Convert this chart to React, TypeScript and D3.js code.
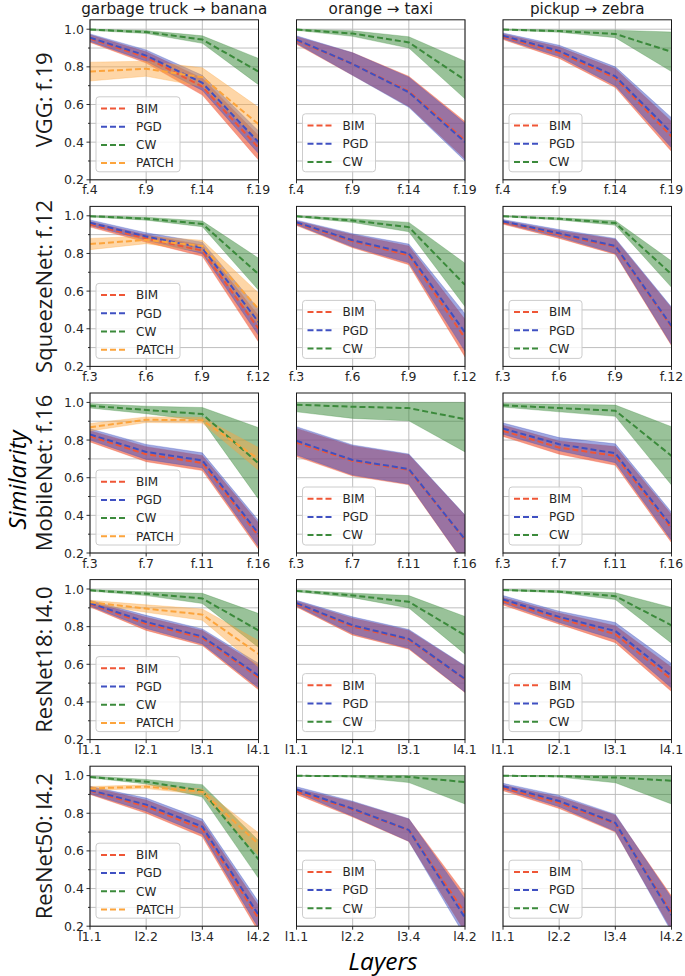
import React from "react";
import * as d3 from "d3";

// ---------- labels ----------
const rowLabels = ["VGG: f.19", "SqueezeNet: f.12", "MobileNet: f.16", "ResNet18: l4.0", "ResNet50: l4.2"];
const colTitles = ["garbage truck \u2192 banana", "orange \u2192 taxi", "pickup \u2192 zebra"];
const xTicksVGG = ["f.4", "f.9", "f.14", "f.19"];
const xTicksSqueeze = ["f.3", "f.6", "f.9", "f.12"];
const xTicksMobile = ["f.3", "f.7", "f.11", "f.16"];
const xTicksRes18 = ["l1.1", "l2.1", "l3.1", "l4.1"];
const xTicksRes50 = ["l1.1", "l2.2", "l3.4", "l4.2"];
const yTickValues = [0.2, 0.4, 0.6, 0.8, 1.0];
const yGridValues = [0.2, 0.3, 0.4, 0.5, 0.6, 0.7, 0.8, 0.9, 1.0];

// ---------- data: mean and spread per layer ----------
// VGG
const vggBananaBIM = [0.95, 0.85, 0.695, 0.37];
const vggBananaBIMsd = [0.02, 0.03, 0.045, 0.065];
const vggBananaPGD = [0.955, 0.86, 0.715, 0.4];
const vggBananaPGDsd = [0.02, 0.03, 0.04, 0.06];
const vggBananaCW = [0.998, 0.985, 0.945, 0.775];
const vggBananaCWsd = [0.004, 0.008, 0.02, 0.07];
const vggBananaPATCH = [0.775, 0.79, 0.745, 0.495];
const vggBananaPATCHsd = [0.05, 0.04, 0.05, 0.09];
const vggTaxiBIM = [0.94, 0.815, 0.67, 0.41];
const vggTaxiBIMsd = [0.02, 0.06, 0.08, 0.1];
const vggTaxiPGD = [0.945, 0.815, 0.665, 0.4];
const vggTaxiPGDsd = [0.02, 0.06, 0.08, 0.1];
const vggTaxiCW = [0.998, 0.977, 0.93, 0.73];
const vggTaxiCWsd = [0.004, 0.015, 0.03, 0.1];
const vggZebraBIM = [0.96, 0.875, 0.74, 0.43];
const vggZebraBIMsd = [0.015, 0.03, 0.05, 0.08];
const vggZebraPGD = [0.965, 0.885, 0.75, 0.45];
const vggZebraPGDsd = [0.015, 0.03, 0.05, 0.08];
const vggZebraCW = [0.998, 0.99, 0.975, 0.88];
const vggZebraCWsd = [0.003, 0.006, 0.02, 0.105];
// SqueezeNet
const sqzBananaBIM = [0.955, 0.88, 0.815, 0.4];
const sqzBananaBIMsd = [0.015, 0.02, 0.03, 0.07];
const sqzBananaPGD = [0.963, 0.89, 0.83, 0.435];
const sqzBananaPGDsd = [0.015, 0.02, 0.03, 0.07];
const sqzBananaCW = [0.998, 0.985, 0.957, 0.69];
const sqzBananaCWsd = [0.004, 0.008, 0.015, 0.085];
const sqzBananaPATCH = [0.85, 0.872, 0.84, 0.505];
const sqzBananaPATCHsd = [0.03, 0.02, 0.03, 0.085];
const sqzTaxiBIM = [0.96, 0.865, 0.79, 0.35];
const sqzTaxiBIMsd = [0.012, 0.035, 0.05, 0.1];
const sqzTaxiPGD = [0.965, 0.87, 0.8, 0.38];
const sqzTaxiPGDsd = [0.012, 0.035, 0.05, 0.1];
const sqzTaxiCW = [0.998, 0.975, 0.94, 0.633];
const sqzTaxiCWsd = [0.004, 0.01, 0.025, 0.115];
const sqzZebraBIM = [0.965, 0.9, 0.835, 0.41];
const sqzZebraBIMsd = [0.01, 0.02, 0.04, 0.1];
const sqzZebraPGD = [0.97, 0.907, 0.84, 0.415];
const sqzZebraPGDsd = [0.01, 0.02, 0.04, 0.1];
const sqzZebraCW = [0.998, 0.984, 0.962, 0.69];
const sqzZebraCWsd = [0.003, 0.006, 0.012, 0.07];
// MobileNet
const mobBananaBIM = [0.82, 0.725, 0.678, 0.29];
const mobBananaBIMsd = [0.03, 0.04, 0.04, 0.07];
const mobBananaPGD = [0.83, 0.737, 0.692, 0.303];
const mobBananaPGDsd = [0.03, 0.04, 0.04, 0.07];
const mobBananaCW = [0.982, 0.96, 0.938, 0.676];
const mobBananaCWsd = [0.012, 0.02, 0.035, 0.19];
const mobBananaPATCH = [0.868, 0.908, 0.905, 0.7];
const mobBananaPATCHsd = [0.02, 0.015, 0.015, 0.06];
const mobTaxiBIM = [0.787, 0.689, 0.642, 0.27];
const mobTaxiBIMsd = [0.075, 0.08, 0.08, 0.13];
const mobTaxiPGD = [0.796, 0.694, 0.646, 0.272];
const mobTaxiPGDsd = [0.075, 0.08, 0.08, 0.13];
const mobTaxiCW = [0.988, 0.977, 0.97, 0.911];
const mobTaxiCWsd = [0.038, 0.062, 0.068, 0.174];
const mobZebraBIM = [0.849, 0.76, 0.716, 0.33];
const mobZebraBIMsd = [0.03, 0.035, 0.05, 0.075];
const mobZebraPGD = [0.861, 0.778, 0.73, 0.342];
const mobZebraPGDsd = [0.03, 0.035, 0.05, 0.075];
const mobZebraCW = [0.985, 0.97, 0.956, 0.716];
const mobZebraCWsd = [0.01, 0.02, 0.03, 0.155];
// ResNet18
const r18BananaBIM = [0.92, 0.815, 0.74, 0.53];
const r18BananaBIMsd = [0.015, 0.035, 0.04, 0.065];
const r18BananaPGD = [0.925, 0.825, 0.748, 0.54];
const r18BananaPGDsd = [0.015, 0.035, 0.04, 0.065];
const r18BananaCW = [0.993, 0.975, 0.95, 0.78];
const r18BananaCWsd = [0.004, 0.01, 0.027, 0.09];
const r18BananaPATCH = [0.93, 0.896, 0.864, 0.655];
const r18BananaPATCHsd = [0.01, 0.02, 0.03, 0.07];
const r18TaxiBIM = [0.92, 0.8, 0.73, 0.52];
const r18TaxiBIMsd = [0.015, 0.045, 0.05, 0.07];
const r18TaxiPGD = [0.925, 0.807, 0.735, 0.522];
const r18TaxiPGDsd = [0.015, 0.045, 0.05, 0.07];
const r18TaxiCW = [0.99, 0.966, 0.932, 0.754];
const r18TaxiCWsd = [0.005, 0.012, 0.033, 0.1];
const r18ZebraBIM = [0.935, 0.843, 0.76, 0.52];
const r18ZebraBIMsd = [0.02, 0.03, 0.045, 0.065];
const r18ZebraPGD = [0.945, 0.852, 0.777, 0.539];
const r18ZebraPGDsd = [0.02, 0.03, 0.045, 0.065];
const r18ZebraCW = [0.995, 0.986, 0.962, 0.807];
const r18ZebraCWsd = [0.003, 0.006, 0.018, 0.095];
// ResNet50
const r50BananaBIM = [0.92, 0.835, 0.715, 0.24];
const r50BananaBIMsd = [0.02, 0.035, 0.04, 0.07];
const r50BananaPGD = [0.923, 0.846, 0.729, 0.26];
const r50BananaPGDsd = [0.02, 0.035, 0.04, 0.07];
const r50BananaCW = [0.993, 0.968, 0.919, 0.555];
const r50BananaCWsd = [0.005, 0.012, 0.033, 0.1];
const r50BananaPATCH = [0.932, 0.941, 0.914, 0.636];
const r50BananaPATCHsd = [0.01, 0.01, 0.015, 0.06];
const r50TaxiBIM = [0.915, 0.82, 0.71, 0.27];
const r50TaxiBIMsd = [0.015, 0.04, 0.06, 0.1];
const r50TaxiPGD = [0.926, 0.824, 0.711, 0.245];
const r50TaxiPGDsd = [0.015, 0.04, 0.06, 0.1];
const r50TaxiCW = [0.999, 0.997, 0.993, 0.966];
const r50TaxiCWsd = [0.002, 0.005, 0.03, 0.117];
const r50ZebraBIM = [0.935, 0.855, 0.745, 0.27];
const r50ZebraBIMsd = [0.015, 0.03, 0.045, 0.09];
const r50ZebraPGD = [0.944, 0.865, 0.749, 0.26];
const r50ZebraPGDsd = [0.015, 0.03, 0.045, 0.09];
const r50ZebraCW = [0.999, 0.997, 0.99, 0.973];
const r50ZebraCWsd = [0.002, 0.005, 0.028, 0.124];

type Series = { name: string; mean: number[]; sd: number[] };
const s = (name: string, mean: number[], sd: number[]): Series => ({ name, mean, sd });

const rowTicks = [xTicksVGG, xTicksSqueeze, xTicksMobile, xTicksRes18, xTicksRes50];
const panels: Series[][][] = [
  [
    [s("BIM", vggBananaBIM, vggBananaBIMsd), s("PGD", vggBananaPGD, vggBananaPGDsd), s("CW", vggBananaCW, vggBananaCWsd), s("PATCH", vggBananaPATCH, vggBananaPATCHsd)],
    [s("BIM", vggTaxiBIM, vggTaxiBIMsd), s("PGD", vggTaxiPGD, vggTaxiPGDsd), s("CW", vggTaxiCW, vggTaxiCWsd)],
    [s("BIM", vggZebraBIM, vggZebraBIMsd), s("PGD", vggZebraPGD, vggZebraPGDsd), s("CW", vggZebraCW, vggZebraCWsd)],
  ],
  [
    [s("BIM", sqzBananaBIM, sqzBananaBIMsd), s("PGD", sqzBananaPGD, sqzBananaPGDsd), s("CW", sqzBananaCW, sqzBananaCWsd), s("PATCH", sqzBananaPATCH, sqzBananaPATCHsd)],
    [s("BIM", sqzTaxiBIM, sqzTaxiBIMsd), s("PGD", sqzTaxiPGD, sqzTaxiPGDsd), s("CW", sqzTaxiCW, sqzTaxiCWsd)],
    [s("BIM", sqzZebraBIM, sqzZebraBIMsd), s("PGD", sqzZebraPGD, sqzZebraPGDsd), s("CW", sqzZebraCW, sqzZebraCWsd)],
  ],
  [
    [s("BIM", mobBananaBIM, mobBananaBIMsd), s("PGD", mobBananaPGD, mobBananaPGDsd), s("CW", mobBananaCW, mobBananaCWsd), s("PATCH", mobBananaPATCH, mobBananaPATCHsd)],
    [s("BIM", mobTaxiBIM, mobTaxiBIMsd), s("PGD", mobTaxiPGD, mobTaxiPGDsd), s("CW", mobTaxiCW, mobTaxiCWsd)],
    [s("BIM", mobZebraBIM, mobZebraBIMsd), s("PGD", mobZebraPGD, mobZebraPGDsd), s("CW", mobZebraCW, mobZebraCWsd)],
  ],
  [
    [s("BIM", r18BananaBIM, r18BananaBIMsd), s("PGD", r18BananaPGD, r18BananaPGDsd), s("CW", r18BananaCW, r18BananaCWsd), s("PATCH", r18BananaPATCH, r18BananaPATCHsd)],
    [s("BIM", r18TaxiBIM, r18TaxiBIMsd), s("PGD", r18TaxiPGD, r18TaxiPGDsd), s("CW", r18TaxiCW, r18TaxiCWsd)],
    [s("BIM", r18ZebraBIM, r18ZebraBIMsd), s("PGD", r18ZebraPGD, r18ZebraPGDsd), s("CW", r18ZebraCW, r18ZebraCWsd)],
  ],
  [
    [s("BIM", r50BananaBIM, r50BananaBIMsd), s("PGD", r50BananaPGD, r50BananaPGDsd), s("CW", r50BananaCW, r50BananaCWsd), s("PATCH", r50BananaPATCH, r50BananaPATCHsd)],
    [s("BIM", r50TaxiBIM, r50TaxiBIMsd), s("PGD", r50TaxiPGD, r50TaxiPGDsd), s("CW", r50TaxiCW, r50TaxiCWsd)],
    [s("BIM", r50ZebraBIM, r50ZebraBIMsd), s("PGD", r50ZebraPGD, r50ZebraPGDsd), s("CW", r50ZebraCW, r50ZebraCWsd)],
  ],
];

// ---------- styling / layout ----------
const W = 685;
const H = 976;
const COLORS: Record<string, string> = { BIM: "#ef5636", PGD: "#3f50c2", CW: "#3b8a3b", PATCH: "#fca43c" };
const FILL_OPACITY: Record<string, number> = { BIM: 0.62, PGD: 0.5, CW: 0.52, PATCH: 0.45 };
const colLeft = [90, 296.5, 503];
const axW = 168.5;
const axH = 160;
const rowBottom = (r: number) => 179.8 + r * 186.6;
const TICK_FONT = "DejaVu Sans";
const LABEL_FONT = "Open Sans";

function Panel({ row, col }: { row: number; col: number }) {
  const left = colLeft[col];
  const bottom = rowBottom(row);
  const top = bottom - axH;
  const ticks = rowTicks[row];
  const x = d3.scalePoint<string>().domain(ticks).range([left, left + axW]);
  const y = d3.scaleLinear().domain([0.2, 1.05]).range([bottom, top]);
  const series = panels[row][col];
  const clipId = `clip-${row}-${col}`;

  const area = (sr: Series) =>
    d3
      .area<number>()
      .x((_, i) => x(ticks[i]) as number)
      .y0((d, i) => y(d - sr.sd[i]))
      .y1((d, i) => y(Math.min(1, d + sr.sd[i])))(sr.mean) as string;
  const line = (sr: Series) =>
    d3
      .line<number>()
      .x((_, i) => x(ticks[i]) as number)
      .y((d) => y(d))(sr.mean) as string;

  const n = series.length;
  const legW = n === 4 ? 84 : 73;
  const legH = n === 4 ? 75 : 58;
  const legX = left + 6;
  const legY = bottom - 8 - legH;

  return (
    <g>
      <defs>
        <clipPath id={clipId}>
          <rect x={left} y={top} width={axW} height={axH} />
        </clipPath>
      </defs>
      {yGridValues.map((v) => (
        <line key={"gy" + v} x1={left} x2={left + axW} y1={y(v)} y2={y(v)} stroke="#b8b8b8" strokeWidth={0.9} />
      ))}
      {ticks.map((t) => (
        <line key={"gx" + t} x1={x(t)} x2={x(t)} y1={top} y2={bottom} stroke="#b8b8b8" strokeWidth={0.9} />
      ))}
      <g clipPath={`url(#${clipId})`}>
        {series.map((sr) => (
          <path
            key={"a" + sr.name}
            d={area(sr)}
            fill={COLORS[sr.name]}
            fillOpacity={FILL_OPACITY[sr.name]}
            stroke={COLORS[sr.name]}
            strokeOpacity={0.35}
            strokeWidth={0.8}
          />
        ))}
        {series.map((sr) => (
          <path key={"l" + sr.name} d={line(sr)} fill="none" stroke={COLORS[sr.name]} strokeWidth={2} strokeDasharray="6,3" />
        ))}
      </g>
      <rect x={left} y={top} width={axW} height={axH} fill="none" stroke="#1a1a1a" strokeWidth={1} />
      {ticks.map((t) => (
        <g key={"xt" + t}>
          <line x1={x(t)} x2={x(t)} y1={bottom} y2={bottom + 3.5} stroke="#1a1a1a" strokeWidth={0.9} />
          <text x={x(t)} y={bottom + 14.5} textAnchor="middle" fontFamily={TICK_FONT} fontSize={12.5} fill="#262626">
            {t}
          </text>
        </g>
      ))}
      {col === 0 &&
        yGridValues.map((v) => {
          const major = yTickValues.some((m) => Math.abs(m - v) < 1e-9);
          return (
            <line key={"yt" + v} x1={left - (major ? 3.5 : 2)} x2={left} y1={y(v)} y2={y(v)} stroke="#1a1a1a" strokeWidth={0.9} />
          );
        })}
      {col === 0 &&
        yTickValues.map((v) => (
          <text key={"yl" + v} x={left - 6} y={y(v)} dy="0.36em" textAnchor="end" fontFamily={TICK_FONT} fontSize={12.5} fill="#262626">
            {v.toFixed(1)}
          </text>
        ))}
      <rect x={legX} y={legY} width={legW} height={legH} rx={3} fill="#ffffff" fillOpacity={0.8} stroke="#cccccc" strokeWidth={1} />
      {series.map((sr, i) => {
        const cy = legY + 11.7 + i * 18.2;
        return (
          <g key={"lg" + sr.name}>
            <line x1={legX + 5} x2={legX + 30} y1={cy} y2={cy} stroke={COLORS[sr.name]} strokeWidth={2} strokeDasharray="6,3" />
            <text x={legX + 40} y={cy} dy="0.36em" fontFamily={TICK_FONT} fontSize={12} fill="#262626">
              {sr.name}
            </text>
          </g>
        );
      })}
    </g>
  );
}

export default function App() {
  return (
    <svg width={W} height={H} viewBox={`0 0 ${W} ${H}`} style={{ position: "absolute", left: 0, top: 0, background: "#fff" }}>
      <rect x={0} y={0} width={W} height={H} fill="#fff" />
      {colTitles.map((t, c) => (
        <text key={t} x={colLeft[c] + axW / 2} y={13.5} textAnchor="middle" fontFamily={TICK_FONT} fontSize={15.2} fill="#1a1a1a">
          {t}
        </text>
      ))}
      {rowLabels.map((lab, r) => (
        <text
          key={lab}
          transform={`translate(52, ${rowBottom(r) - axH / 2}) rotate(-90)`}
          textAnchor="middle"
          fontFamily={LABEL_FONT}
          fontSize={22}
          fill="#1a1a1a"
        >
          {lab}
        </text>
      ))}
      <text transform="translate(26, 480) rotate(-90)" textAnchor="middle" fontFamily={LABEL_FONT} fontStyle="italic" fontSize={24} fill="#000">
        Similarity
      </text>
      <text x={383} y={970} textAnchor="middle" fontFamily={LABEL_FONT} fontStyle="italic" fontSize={24.5} fill="#000">
        Layers
      </text>
      {panels.map((rowPanels, r) => rowPanels.map((_, c) => <Panel key={`${r}-${c}`} row={r} col={c} />))}
    </svg>
  );
}
